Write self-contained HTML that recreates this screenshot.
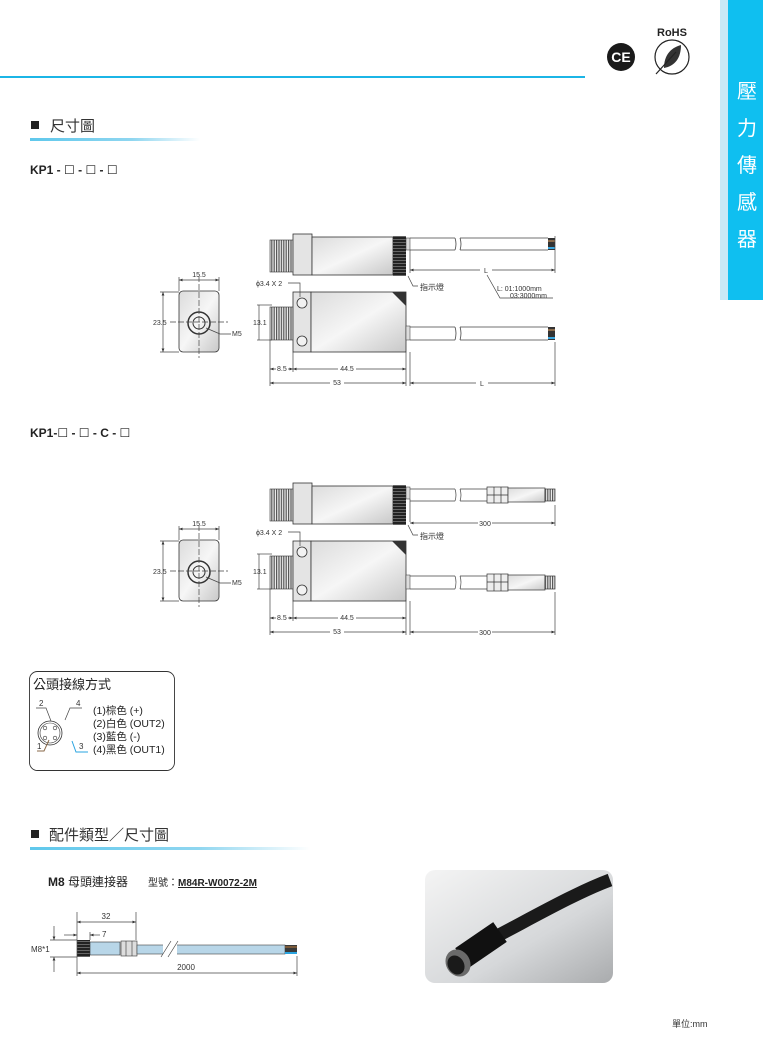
<!DOCTYPE html>
<html><head><meta charset="utf-8"><style>
html,body{margin:0;padding:0;background:#fff;}
svg{display:block;font-family:"Liberation Sans","Noto Sans CJK TC",sans-serif;}
.d{font-size:7px;fill:#333;}
.l{stroke:#444;stroke-width:0.7;fill:none;}
</style></head><body>
<svg width="763" height="1038" viewBox="0 0 763 1038" xmlns="http://www.w3.org/2000/svg">
<defs>
<linearGradient id="hl" x1="0" x2="1"><stop offset="0" stop-color="#5fc8ec"/><stop offset="0.6" stop-color="#8fd6f0"/><stop offset="1" stop-color="#fff"/></linearGradient>
<linearGradient id="bd" x1="0" y1="0" x2="1" y2="1"><stop offset="0" stop-color="#dcdcdc"/><stop offset="0.5" stop-color="#f6f6f6"/><stop offset="1" stop-color="#c8c8c8"/></linearGradient>
<linearGradient id="ph" x1="0" y1="0" x2="1" y2="1"><stop offset="0" stop-color="#f4f4f4"/><stop offset="0.6" stop-color="#d6d8da"/><stop offset="1" stop-color="#a9abad"/></linearGradient>
<marker id="a" markerWidth="6" markerHeight="6" refX="5" refY="3" orient="auto-start-reverse"><path d="M0,1L5,3L0,5z" fill="#333"/></marker>
<pattern id="th" width="2.4" height="3" patternUnits="userSpaceOnUse"><rect width="2.4" height="3" fill="#eee"/><rect width="1.2" height="3" fill="#555"/></pattern>
<pattern id="kn" width="3" height="3" patternUnits="userSpaceOnUse"><rect width="3" height="3" fill="#222"/><rect y="2" width="3" height="1" fill="#666"/></pattern>
<g id="front">
<rect x="179" y="291" width="40" height="61" rx="4" fill="url(#bd)" stroke="#333" stroke-width="0.8"/>
<circle cx="199" cy="323" r="11" fill="none" stroke="#333" stroke-width="1.5"/>
<circle cx="199" cy="323" r="6" fill="none" stroke="#333" stroke-width="1"/>
<line x1="199" y1="276" x2="199" y2="358" class="l" stroke-dasharray="6,2"/>
<line x1="170" y1="322" x2="228" y2="322" class="l" stroke-dasharray="6,2"/>
<line x1="179" y1="280" x2="219" y2="280" class="l" marker-start="url(#a)" marker-end="url(#a)"/>
<line x1="179" y1="277" x2="179" y2="291" class="l"/><line x1="219" y1="277" x2="219" y2="291" class="l"/>
<text x="199" y="277" class="d" text-anchor="middle">15.5</text>
<line x1="163" y1="292" x2="163" y2="352" class="l" marker-start="url(#a)" marker-end="url(#a)"/>
<line x1="160" y1="292" x2="179" y2="292" class="l"/><line x1="160" y1="352" x2="179" y2="352" class="l"/>
<text x="153" y="325" class="d">23.5</text>
<polyline points="206,328 220,334 231,334" class="l"/>
<text x="232" y="336" class="d">M5</text>
<!-- top view -->
<rect x="270" y="240" width="23" height="32" fill="url(#th)" stroke="#333" stroke-width="0.6"/>
<rect x="293" y="234" width="19" height="41" fill="#e4e4e4" stroke="#333" stroke-width="0.8"/>
<rect x="312" y="237" width="81" height="38" fill="url(#bd)" stroke="#333" stroke-width="0.8"/>
<rect x="393" y="236" width="13" height="40" fill="url(#kn)"/>
<rect x="406" y="238" width="4" height="12" fill="#ddd" stroke="#333" stroke-width="0.5"/>
<!-- side view -->
<rect x="270" y="307" width="23" height="33" fill="url(#th)" stroke="#333" stroke-width="0.6"/>
<rect x="293" y="292" width="18" height="60" fill="#e4e4e4" stroke="#333" stroke-width="0.8"/>
<rect x="311" y="292" width="95" height="60" fill="url(#bd)" stroke="#333" stroke-width="0.8"/>
<polygon points="392,292 406,292 406,306" fill="#333"/>
<circle cx="302" cy="303" r="5" fill="#f2f2f2" stroke="#333" stroke-width="0.8"/>
<circle cx="302" cy="341" r="5" fill="#f2f2f2" stroke="#333" stroke-width="0.8"/>
<rect x="406" y="326" width="4" height="14" fill="#ddd" stroke="#333" stroke-width="0.5"/>
<text x="256" y="286" class="d">ϕ3.4 X 2</text>
<polyline points="288,283 300,283 300,297" class="l"/>
<line x1="259" y1="305" x2="259" y2="340" class="l"/>
<line x1="257" y1="305" x2="272" y2="305" class="l"/><line x1="257" y1="340" x2="272" y2="340" class="l"/>
<text x="253" y="325" class="d">13.1</text>
<polyline points="408,276 413,286 418,286" class="l"/>
<text x="420" y="290" font-size="8" fill="#333">指示燈</text>
<line x1="270" y1="340" x2="270" y2="386" class="l"/>
<line x1="293" y1="352" x2="293" y2="372" class="l"/>
<line x1="406" y1="352" x2="406" y2="386" class="l"/>
<line x1="270" y1="369" x2="293" y2="369" class="l" marker-start="url(#a)" marker-end="url(#a)"/>
<line x1="293" y1="369" x2="406" y2="369" class="l" marker-start="url(#a)" marker-end="url(#a)"/>
<rect x="276" y="365" width="12" height="7" fill="#fff"/><text x="277" y="371" class="d">8.5</text>
<rect x="338" y="365" width="18" height="7" fill="#fff"/><text x="347" y="371" class="d" text-anchor="middle">44.5</text>
<line x1="270" y1="383" x2="406" y2="383" class="l" marker-start="url(#a)" marker-end="url(#a)"/>
<rect x="330" y="379" width="14" height="8" fill="#fff"/><text x="337" y="385" class="d" text-anchor="middle">53</text>
<line x1="410" y1="352" x2="410" y2="386" class="l"/>
<line x1="410" y1="250" x2="410" y2="273" class="l"/>
</g>
</defs>

<!-- header -->
<line x1="0" y1="77" x2="585" y2="77" stroke="#1bb5e6" stroke-width="2"/>
<rect x="720" y="0" width="43" height="300" fill="#0fbff0"/>
<rect x="720" y="0" width="8" height="300" fill="#c8e9f6"/>
<g fill="#fff" font-size="20" text-anchor="middle" font-family="'Noto Sans CJK TC',sans-serif">
<text x="747" y="98">壓</text><text x="747" y="135">力</text><text x="747" y="172">傳</text><text x="747" y="209">感</text><text x="747" y="246">器</text></g>
<circle cx="621" cy="57" r="14" fill="#1a1a1a"/>
<text x="621" y="62" font-size="14" font-weight="bold" fill="#fff" text-anchor="middle">CE</text>
<text x="672" y="36" font-size="11" font-weight="bold" fill="#222" text-anchor="middle">RoHS</text>
<circle cx="672" cy="57" r="17" fill="none" stroke="#222" stroke-width="1.2"/>
<path d="M664,68 C664,56 670,48 681,45 C681,58 675,66 664,68z" fill="#333"/>
<line x1="656" y1="74" x2="676" y2="52" stroke="#222" stroke-width="1.2"/>

<!-- section 1 -->
<rect x="31" y="121" width="8" height="8" fill="#222"/>
<text x="50" y="131" font-size="15" fill="#333">尺寸圖</text>
<rect x="30" y="138" width="170" height="3" fill="url(#hl)"/>
<text x="30" y="174" font-size="12" font-weight="bold" fill="#222">KP1 - <tspan font-weight="normal">☐</tspan> - <tspan font-weight="normal">☐</tspan> - <tspan font-weight="normal">☐</tspan></text>

<use href="#front"/>
<!-- cable 1 -->
<g class="l">
<path d="M410,238 H455 M410,250 H455 M460,238 H548 M460,250 H548 M455,238 q2,6 0,12 M460,238 q2,6 0,12" stroke-width="0.8"/>
<path d="M410,327 H455 M410,340 H455 M460,327 H548 M460,340 H548 M455,327 q2,6 0,13 M460,327 q2,6 0,13" stroke-width="0.8"/>
</g>
<rect x="548" y="238" width="7" height="12" fill="#333"/><rect x="548" y="247" width="7" height="2" fill="#3aa7e0"/><rect x="548" y="240" width="7" height="2" fill="#8a6a4a"/>
<rect x="548" y="327" width="7" height="13" fill="#333"/><rect x="548" y="337" width="7" height="2" fill="#3aa7e0"/><rect x="548" y="329" width="7" height="2" fill="#8a6a4a"/>
<line x1="555" y1="236" x2="555" y2="273" class="l"/><line x1="555" y1="342" x2="555" y2="386" class="l"/>
<line x1="410" y1="270" x2="555" y2="270" class="l" marker-start="url(#a)" marker-end="url(#a)"/>
<rect x="480" y="266" width="12" height="8" fill="#fff"/><text x="486" y="273" class="d" text-anchor="middle">L</text>
<line x1="410" y1="383" x2="555" y2="383" class="l" marker-start="url(#a)" marker-end="url(#a)"/>
<rect x="476" y="379" width="12" height="8" fill="#fff"/><text x="482" y="386" class="d" text-anchor="middle">L</text>
<polyline points="487,275 500,298 553,298" class="l"/>
<text x="497" y="291" class="d">L: 01:1000mm</text>
<text x="510" y="298" class="d">03:3000mm</text>

<text x="30" y="437" font-size="12" font-weight="bold" fill="#222">KP1-<tspan font-weight="normal">☐</tspan> - <tspan font-weight="normal">☐</tspan> - C - <tspan font-weight="normal">☐</tspan></text>

<g transform="translate(0,249)">
<use href="#front"/>
<g class="l" stroke-width="0.8">
<path d="M410,240 H455 M410,252 H455 M460,240 H487 M460,252 H487 M455,240 q2,6 0,12 M460,240 q2,6 0,12"/>
<path d="M410,327 H455 M410,340 H455 M460,327 H487 M460,340 H487 M455,327 q2,6 0,13 M460,327 q2,6 0,13"/>
</g>
<g stroke="#333" stroke-width="0.7">
<rect x="487" y="238" width="21" height="16" fill="#eee"/><line x1="494" y1="238" x2="494" y2="254"/><line x1="501" y1="238" x2="501" y2="254"/><line x1="487" y1="246" x2="508" y2="246"/>
<rect x="508" y="239" width="37" height="14" fill="url(#bd)"/><rect x="545" y="240" width="10" height="12" fill="url(#th)"/>
<rect x="487" y="325" width="21" height="17" fill="#eee"/><line x1="494" y1="325" x2="494" y2="342"/><line x1="501" y1="325" x2="501" y2="342"/><line x1="487" y1="333" x2="508" y2="333"/>
<rect x="508" y="326" width="37" height="15" fill="url(#bd)"/><rect x="545" y="327" width="10" height="13" fill="url(#th)"/>
</g>
<line x1="555" y1="256" x2="555" y2="277" class="l"/><line x1="555" y1="343" x2="555" y2="386" class="l"/>
<line x1="410" y1="274" x2="555" y2="274" class="l" marker-start="url(#a)" marker-end="url(#a)"/>
<rect x="478" y="270" width="14" height="8" fill="#fff"/><text x="485" y="277" class="d" text-anchor="middle">300</text>
<line x1="410" y1="383" x2="555" y2="383" class="l" marker-start="url(#a)" marker-end="url(#a)"/>
<rect x="478" y="379" width="14" height="8" fill="#fff"/><text x="485" y="386" class="d" text-anchor="middle">300</text>
</g>

<!-- pin box -->
<rect x="29.5" y="671.5" width="145" height="99" rx="8" fill="none" stroke="#333" stroke-width="0.9"/>
<text x="33" y="689" font-size="13" fill="#222">公頭接線方式</text>
<circle cx="50" cy="733" r="12" fill="none" stroke="#333" stroke-width="0.8"/>
<circle cx="50" cy="733" r="10" fill="none" stroke="#333" stroke-width="0.6"/>
<circle cx="45" cy="728" r="1.8" fill="none" stroke="#333" stroke-width="0.6"/><circle cx="55" cy="728" r="1.8" fill="none" stroke="#333" stroke-width="0.6"/>
<circle cx="45" cy="738" r="1.8" fill="none" stroke="#333" stroke-width="0.6"/><circle cx="55" cy="738" r="1.8" fill="none" stroke="#333" stroke-width="0.6"/>
<polyline points="36,708 46,708 51,721" class="l" stroke-width="0.9"/>
<polyline points="82,708 70,708 65,720" class="l" stroke-width="0.9"/>
<polyline points="37,751 44,751 49,740" fill="none" stroke="#8a6a4a" stroke-width="1"/>
<polyline points="72,741 76,752 88,752" fill="none" stroke="#2aa4e0" stroke-width="1"/>
<g font-size="8" fill="#333"><text x="39" y="706">2</text><text x="76" y="706">4</text><text x="37" y="749">1</text><text x="79" y="749">3</text></g>
<g font-size="10.5" fill="#222"><text x="93" y="714">(1)棕色 (+)</text><text x="93" y="727">(2)白色 (OUT2)</text><text x="93" y="740">(3)藍色 (-)</text><text x="93" y="753">(4)黑色 (OUT1)</text></g>

<!-- section 2 -->
<rect x="31" y="830" width="8" height="8" fill="#222"/>
<text x="49" y="840" font-size="15" fill="#333">配件類型／尺寸圖</text>
<rect x="30" y="847" width="280" height="3" fill="url(#hl)"/>
<text x="48" y="886" font-size="12" fill="#222"><tspan font-weight="bold">M8</tspan> 母頭連接器</text>
<text x="148" y="886" font-size="10" fill="#222">型號：<tspan font-weight="bold" text-decoration="underline">M84R-W0072-2M</tspan></text>

<!-- M8 drawing -->
<rect x="77" y="940" width="13" height="17" fill="url(#kn)"/>
<rect x="90" y="942" width="30" height="13" fill="#b8d6e8" stroke="#333" stroke-width="0.6"/>
<g stroke="#333" stroke-width="0.6" fill="#ddd"><rect x="121" y="941" width="16" height="15"/><line x1="126" y1="941" x2="126" y2="956"/><line x1="132" y1="941" x2="132" y2="956"/></g>
<rect x="137" y="945" width="148" height="9" fill="#b8d6e8" stroke="#444" stroke-width="0.6"/>
<rect x="163" y="942" width="14" height="14" fill="#fff"/>
<path d="M161,957 L171,941 M168,957 L178,941" class="l"/>
<rect x="285" y="945" width="12" height="9" fill="#3a3a3a"/><rect x="285" y="952" width="12" height="2" fill="#2aa4e0"/><rect x="285" y="946" width="12" height="2" fill="#7a5a3a"/>
<line x1="77" y1="912" x2="77" y2="976" class="l"/><line x1="136" y1="912" x2="136" y2="940" class="l"/><line x1="297" y1="956" x2="297" y2="976" class="l"/>
<line x1="77" y1="922" x2="136" y2="922" class="l" marker-start="url(#a)" marker-end="url(#a)"/>
<text x="106" y="919" font-size="8" fill="#333" text-anchor="middle">32</text>
<line x1="64" y1="935" x2="77" y2="935" class="l" marker-end="url(#a)"/><line x1="90" y1="935" x2="100" y2="935" class="l" marker-start="url(#a)"/>
<line x1="90" y1="932" x2="90" y2="940" class="l"/>
<text x="102" y="937" font-size="8" fill="#333">7</text>
<line x1="54" y1="926" x2="54" y2="940" class="l" marker-end="url(#a)"/><line x1="54" y1="957" x2="54" y2="972" class="l" marker-start="url(#a)"/>
<line x1="50" y1="940" x2="77" y2="940" class="l"/><line x1="50" y1="957" x2="77" y2="957" class="l"/>
<text x="31" y="952" font-size="8" fill="#333">M8*1</text>
<line x1="77" y1="973" x2="297" y2="973" class="l" marker-start="url(#a)" marker-end="url(#a)"/>
<text x="186" y="970" font-size="8" fill="#333" text-anchor="middle">2000</text>

<!-- photo -->
<rect x="425" y="870" width="188" height="113" rx="10" fill="url(#ph)"/>
<path d="M470,950 C520,925 570,895 610,880" stroke="#1a1a1a" stroke-width="13" fill="none"/>
<path d="M462,958 L500,932" stroke="#111" stroke-width="24" fill="none"/>
<ellipse cx="458" cy="963" rx="12" ry="14" fill="#6a6a6a" transform="rotate(-30 458 963)"/>
<ellipse cx="456" cy="965" rx="8" ry="10" fill="#1a1a1a" transform="rotate(-30 456 965)"/>

<text x="672" y="1027" font-size="9" fill="#333">單位:mm</text>
</svg>
</body></html>
